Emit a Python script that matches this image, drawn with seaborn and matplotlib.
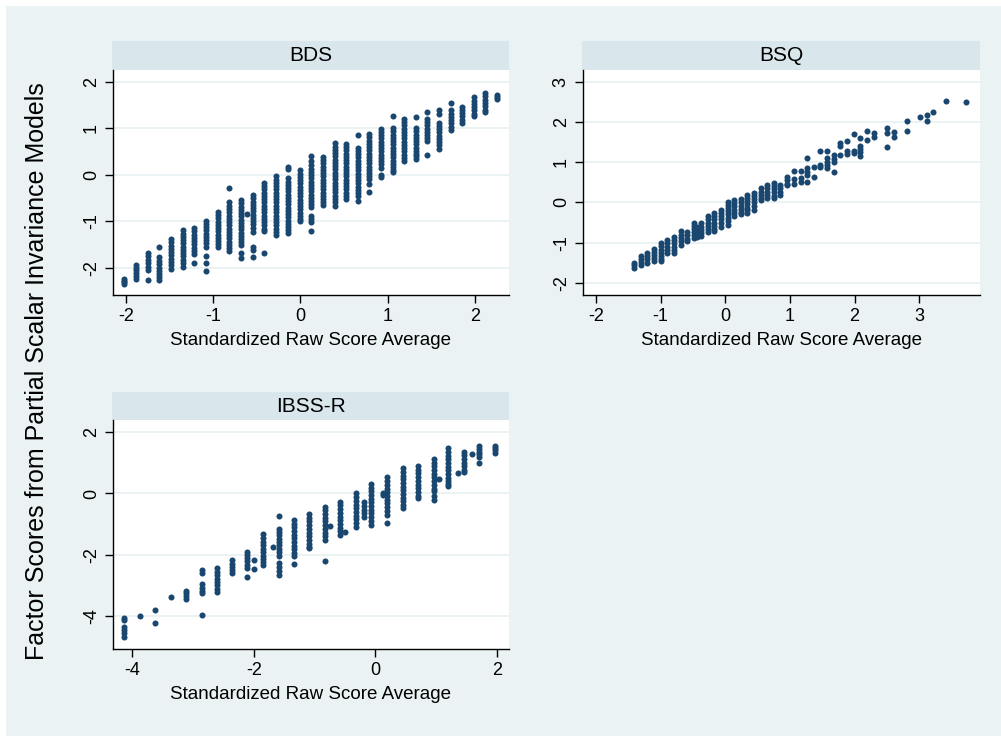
import matplotlib
matplotlib.use("Agg")
import matplotlib.pyplot as plt
import pandas as pd
import seaborn as sns
from matplotlib.patches import Rectangle

sns.set_theme(style="white")
plt.rcParams["font.family"] = ["Liberation Sans", "DejaVu Sans"]
plt.rcParams["axes.unicode_minus"] = False

# ---------------- data ----------------
panel_titles = ["BDS", "BSQ", "IBSS-R"]
x_label = "Standardized Raw Score Average"
y_label = "Factor Scores from Partial Scalar Invariance Models"

bds_x = [-2.02, -1.885, -1.75, -1.62, -1.485, -1.35, -1.22, -1.085, -0.95, -0.815,
         -0.68, -0.617, -0.55, -0.415, -0.28, -0.145, -0.01, 0.125, 0.255, 0.39,
         0.525, 0.655, 0.79, 0.92, 1.055, 1.19, 1.32, 1.455, 1.59, 1.72,
         1.855, 1.99, 2.12, 2.255]
bds_y = [
    [-2.24, -2.28, -2.32, -2.35],
    [-1.94, -2.0, -2.06, -2.12, -2.18, -2.24],
    [-1.69, -1.76, -1.83, -1.91, -1.98, -2.05, -2.27],
    [-1.55, -1.78, -1.85, -1.92, -2.0, -2.07, -2.14, -2.2, -2.26],
    [-1.39, -1.46, -1.53, -1.6, -1.67, -1.74, -1.81, -1.88, -1.95, -2.03],
    [-1.2, -1.27, -1.34, -1.41, -1.48, -1.55, -1.62, -1.69, -1.76, -1.83, -1.9, -1.98],
    [-1.15, -1.22, -1.29, -1.36, -1.43, -1.5, -1.57, -1.64, -1.71, -1.9],
    [-0.99, -1.06, -1.13, -1.2, -1.27, -1.34, -1.41, -1.48, -1.55, -1.75, -1.9, -2.07],
    [-0.8, -0.87, -0.94, -1.01, -1.08, -1.15, -1.22, -1.29, -1.36, -1.43, -1.5, -1.55],
    [-0.28, -0.6, -0.67, -0.74, -0.81, -0.88, -0.95, -1.02, -1.09, -1.16, -1.23, -1.3,
     -1.37, -1.44, -1.51, -1.58, -1.65],
    [-0.55, -0.62, -0.69, -0.76, -0.83, -0.9, -0.97, -1.04, -1.11, -1.18, -1.25, -1.32,
     -1.39, -1.46, -1.52, -1.68, -1.8],
    [-0.85],
    [-0.44, -0.51, -0.58, -0.65, -0.72, -0.79, -0.86, -0.93, -1.0, -1.07, -1.14, -1.24,
     -1.55, -1.63, -1.78],
    [-0.18, -0.25, -0.32, -0.39, -0.46, -0.53, -0.6, -0.67, -0.74, -0.81, -0.88, -0.95,
     -1.02, -1.09, -1.16, -1.22, -1.68],
    [-0.04, -0.11, -0.18, -0.25, -0.32, -0.39, -0.46, -0.53, -0.6, -0.67, -0.74, -0.81,
     -0.88, -0.95, -1.02, -1.09, -1.16, -1.23, -1.3],
    [0.17, 0.12, -0.08, -0.15, -0.22, -0.29, -0.36, -0.43, -0.5, -0.57, -0.64, -0.71,
     -0.78, -0.85, -0.92, -0.99, -1.06, -1.13, -1.2, -1.25],
    [0.09, 0.02, -0.05, -0.12, -0.19, -0.26, -0.33, -0.4, -0.47, -0.54, -0.61, -0.68,
     -0.75, -0.82, -0.89, -0.96, -1.0],
    [0.4, 0.3, 0.2, 0.13, 0.06, -0.01, -0.08, -0.15, -0.22, -0.29, -0.36, -0.43, -0.5,
     -0.57, -0.64, -0.7, -0.88, -0.96, -1.03, -1.22],
    [0.38, 0.31, 0.24, 0.17, 0.1, 0.03, -0.04, -0.11, -0.18, -0.25, -0.32, -0.39, -0.46,
     -0.53, -0.6, -0.65],
    [0.67, 0.6, 0.53, 0.46, 0.39, 0.32, 0.25, 0.18, 0.11, 0.04, -0.03, -0.1, -0.17,
     -0.24, -0.31, -0.38, -0.45, -0.52, -0.59, -0.67],
    [0.66, 0.59, 0.52, 0.45, 0.38, 0.31, 0.24, 0.17, 0.1, 0.03, -0.04, -0.11, -0.18,
     -0.25, -0.32, -0.39, -0.46, -0.53],
    [0.85, 0.58, 0.51, 0.44, 0.37, 0.3, 0.23, 0.16, 0.09, 0.02, -0.05, -0.12, -0.19,
     -0.26, -0.33, -0.4, -0.47, -0.56],
    [0.87, 0.8, 0.73, 0.66, 0.59, 0.52, 0.45, 0.38, 0.31, 0.24, 0.17, 0.1, 0.03, -0.04,
     -0.1, -0.2, -0.38],
    [0.99, 0.92, 0.85, 0.78, 0.71, 0.64, 0.57, 0.5, 0.43, 0.36, 0.29, 0.22, 0.15, 0.0,
     -0.06],
    [1.26, 1.0, 0.93, 0.86, 0.79, 0.72, 0.65, 0.58, 0.51, 0.44, 0.37, 0.3, 0.23, 0.16,
     0.1, 0.05],
    [1.2, 1.13, 1.06, 0.99, 0.92, 0.85, 0.78, 0.71, 0.64, 0.57, 0.5, 0.43, 0.36, 0.3],
    [1.23, 1.0, 0.93, 0.86, 0.79, 0.72, 0.65, 0.58, 0.51, 0.45, 0.4, 0.33],
    [1.35, 1.2, 1.13, 1.06, 0.99, 0.92, 0.85, 0.78, 0.72, 0.43],
    [1.4, 1.3, 1.12, 1.05, 0.98, 0.91, 0.84, 0.77, 0.7, 0.63, 0.55],
    [1.55, 1.38, 1.31, 1.24, 1.17, 1.1, 1.02, 0.96],
    [1.46, 1.39, 1.32, 1.25, 1.18, 1.11],
    [1.66, 1.59, 1.52, 1.45, 1.38, 1.31, 1.27],
    [1.75, 1.68, 1.61, 1.54, 1.47, 1.4, 1.35],
    [1.71, 1.67, 1.63],
]

bsq_x = [-1.41, -1.31, -1.21, -1.1, -1.0, -0.9, -0.79, -0.69, -0.59, -0.48,
         -0.43, -0.38, -0.27, -0.17, -0.07, 0.04, 0.14, 0.24, 0.34, 0.44,
         0.55, 0.65, 0.75, 0.85, 0.96, 1.06, 1.17, 1.27, 1.38, 1.47,
         1.58, 1.68, 1.78, 1.89, 1.99, 2.09, 2.2, 2.3, 2.5, 2.61,
         2.81, 3.01, 3.12, 3.22, 3.42, 3.73]
bsq_y = [
    [-1.5, -1.56, -1.63],
    [-1.33, -1.41, -1.48, -1.55],
    [-1.25, -1.33, -1.41, -1.5],
    [-1.15, -1.22, -1.3, -1.37, -1.45],
    [-1.01, -1.09, -1.17, -1.25, -1.33, -1.4, -1.46],
    [-0.94, -1.02, -1.1, -1.18, -1.26],
    [-0.86, -0.94, -1.02, -1.1, -1.18, -1.25],
    [-0.72, -0.8, -0.88, -0.96, -1.05],
    [-0.74, -0.82, -0.9, -0.96],
    [-0.5, -0.58, -0.66, -0.74, -0.82, -0.88],
    [-0.6, -0.7, -0.8, -0.87],
    [-0.52, -0.6, -0.68, -0.76, -0.84],
    [-0.34, -0.42, -0.5, -0.58, -0.66, -0.73],
    [-0.26, -0.34, -0.42, -0.5, -0.58, -0.65, -0.72],
    [-0.18, -0.26, -0.34, -0.42, -0.5, -0.6],
    [0.02, -0.06, -0.14, -0.22, -0.3, -0.38, -0.46, -0.57],
    [0.06, -0.02, -0.1, -0.18, -0.26, -0.34],
    [0.08, 0.0, -0.08, -0.16, -0.24, -0.3],
    [0.19, 0.11, 0.03, -0.05, -0.13, -0.2, -0.26],
    [0.24, 0.16, 0.08, 0.0, -0.08, -0.2],
    [0.35, 0.27, 0.19, 0.11, 0.06],
    [0.43, 0.35, 0.27, 0.19, 0.1],
    [0.49, 0.41, 0.33, 0.25, 0.17, 0.1],
    [0.43, 0.35, 0.27, 0.18],
    [0.63, 0.55, 0.47, 0.43],
    [0.78, 0.58, 0.46],
    [0.78, 0.6, 0.5],
    [1.1, 0.85, 0.75, 0.68, 0.5],
    [0.88, 0.62],
    [1.28, 0.93, 0.88],
    [1.28, 1.1, 1.0, 0.92, 0.85],
    [1.18, 1.07, 1.0, 0.75],
    [1.47, 1.4, 1.17],
    [1.52, 1.27, 1.2],
    [1.69, 1.28, 1.22],
    [1.61, 1.4, 1.32, 1.25, 1.15],
    [1.78, 1.55],
    [1.73, 1.62],
    [1.86, 1.72, 1.37],
    [1.75, 1.63],
    [2.02, 1.78],
    [2.12],
    [2.17, 2.03],
    [2.25],
    [2.53],
    [2.49],
]

ibss_x = [-4.14, -3.88, -3.63, -3.37, -3.12, -2.86, -2.6, -2.36, -2.11, -2.0,
          -1.85, -1.69, -1.59, -1.34, -1.09, -0.83, -0.75, -0.58, -0.5, -0.32,
          -0.18, -0.07, 0.13, 0.19, 0.45, 0.7, 0.96, 1.05, 1.2, 1.36,
          1.46, 1.59, 1.71, 1.97]
ibss_y = [
    [-4.05, -4.12, -4.33, -4.43, -4.55, -4.66],
    [-3.99],
    [-3.79, -4.2],
    [-3.36],
    [-3.18, -3.25, -3.33, -3.42],
    [-2.5, -2.6, -2.95, -3.08, -3.18, -3.25, -3.96],
    [-2.44, -2.55, -2.66, -2.77, -2.88, -2.99, -3.1, -3.2],
    [-2.17, -2.28, -2.39, -2.5, -2.6],
    [-1.9, -2.0, -2.1, -2.2, -2.32, -2.42, -2.71],
    [-2.17, -2.45],
    [-1.32, -1.45, -1.58, -1.68, -1.8, -1.92, -2.03, -2.13, -2.24, -2.34],
    [-1.75],
    [-0.72, -1.14, -1.25, -1.36, -1.47, -1.58, -1.69, -1.8, -1.91, -2.02, -2.25, -2.4,
     -2.53, -2.65],
    [-0.86, -0.98, -1.1, -1.22, -1.34, -1.46, -1.58, -1.7, -1.82, -1.94, -2.05, -2.3],
    [-0.67, -0.79, -0.91, -1.03, -1.15, -1.27, -1.39, -1.51, -1.63, -1.75, -1.79],
    [-0.43, -0.55, -0.67, -0.79, -0.91, -1.03, -1.15, -1.27, -1.39, -1.51, -2.2],
    [-1.05],
    [-0.27, -0.39, -0.51, -0.63, -0.75, -0.87, -0.99, -1.11, -1.23, -1.35],
    [-1.24],
    [0.0, -0.12, -0.24, -0.36, -0.48, -0.6, -0.72, -0.84, -0.96, -1.08],
    [-0.27, -0.4, -0.55, -0.65, -0.76],
    [0.31, 0.19, 0.07, -0.05, -0.17, -0.29, -0.41, -0.53, -0.65, -0.77, -0.89, -1.03],
    [0.0, -0.05],
    [0.52, 0.4, 0.28, 0.16, 0.04, -0.08, -0.2, -0.32, -0.44, -0.56, -0.7, -0.97],
    [0.82, 0.7, 0.58, 0.46, 0.34, 0.22, 0.1, -0.02, -0.14, -0.26, -0.38, -0.48],
    [0.89, 0.77, 0.65, 0.53, 0.41, 0.29, 0.17, 0.05, -0.07, -0.16],
    [1.12, 1.0, 0.88, 0.76, 0.64, 0.52, 0.4, 0.28, 0.16, 0.08, -0.08, -0.21],
    [0.46],
    [1.47, 1.35, 1.23, 1.11, 0.99, 0.87, 0.75, 0.63, 0.51, 0.39, 0.3, 0.24],
    [0.65],
    [1.36, 1.24, 1.12, 1.0, 0.88, 0.77, 0.71],
    [1.27],
    [1.54, 1.45, 1.36, 1.27, 1.2, 0.98],
    [1.54, 1.47, 1.4, 1.31],
]

bds_xticks = [-2, -1, 0, 1, 2]
bds_yticks = [-2, -1, 0, 1, 2]
bsq_xticks = [-2, -1, 0, 1, 2, 3]
bsq_yticks = [-2, -1, 0, 1, 2, 3]
ibss_xticks = [-4, -2, 0, 2]
ibss_yticks = [-4, -2, 0, 2]


def to_frame(xs, ys):
    rows = [(x, y) for x, col in zip(xs, ys) for y in col]
    return pd.DataFrame(rows, columns=["x", "y"])


# ---------------- styling ----------------
W, H = 1001, 736
BG = "#EAF2F3"
STRIP = "#D9E6EB"
GRID = "#EAF2F3"
NAVY = "#1A476F"

fig = plt.figure(figsize=(W / 100, H / 100), dpi=100, facecolor="white")
fig.patches.append(Rectangle((6 / W, 0), (W - 6) / W, (H - 6) / H,
                             transform=fig.transFigure, facecolor=BG,
                             edgecolor="none", zorder=-10))


def px_rect(left, top, right, bottom):
    return [left / W, 1 - bottom / H, (right - left) / W, (bottom - top) / H]


def panel(rect_px, strip_top, df, title, xticks, yticks, xlim, ylim):
    left, top, right, bottom = rect_px
    ax = fig.add_axes(px_rect(left, top, right, bottom))
    ax.set_facecolor("white")
    for yv in yticks:
        ax.axhline(yv, color=GRID, lw=1.4, zorder=0)
    sns.scatterplot(data=df, x="x", y="y", ax=ax, color=NAVY, s=19,
                    linewidth=0, legend=False, zorder=3)
    ax.set_xlim(xlim)
    ax.set_ylim(ylim)
    ax.set_xticks(xticks)
    ax.set_yticks(yticks)
    ax.set_xticklabels([str(t) for t in xticks])
    ax.set_yticklabels([str(t) for t in yticks], rotation=90, va="center")
    for s in ("top", "right"):
        ax.spines[s].set_visible(False)
    for s in ("left", "bottom"):
        ax.spines[s].set_color("black")
        ax.spines[s].set_linewidth(1.0)
    ax.tick_params(axis="both", direction="out", length=5.5, width=1.0,
                   colors="black", labelsize=13, pad=4, left=True, bottom=True)
    ax.set_xlabel(x_label, fontsize=13.5, labelpad=5, color="black")
    ax.set_ylabel("")
    sh = (top - strip_top) / (bottom - top)
    ax.add_patch(Rectangle((-1 / (right - left), 1), 1 + 1 / (right - left), sh,
                           transform=ax.transAxes, clip_on=False,
                           facecolor=STRIP, edgecolor="none"))
    ax.text(0.5, 1 + sh / 2, title, transform=ax.transAxes, ha="center",
            va="center", fontsize=15, color="black")
    return ax


panel((113, 70, 509, 295), 41, to_frame(bds_x, bds_y), panel_titles[0],
      bds_xticks, bds_yticks, (-2.149, 2.39), (-2.59, 2.25))
panel((583, 70, 980, 295), 41, to_frame(bsq_x, bsq_y), panel_titles[1],
      bsq_xticks, bsq_yticks, (-2.2, 3.94), (-2.30, 3.29))
panel((113, 420.3, 509, 648.7), 392.3, to_frame(ibss_x, ibss_y), panel_titles[2],
      ibss_xticks, ibss_yticks, (-4.32, 2.2), (-5.05, 2.38))

fig.text(37.5 / W, 1 - 371.5 / H, y_label, rotation=90, ha="center",
         va="center", fontsize=18, color="black")

fig.savefig("out.png", dpi=100, facecolor=fig.get_facecolor())
